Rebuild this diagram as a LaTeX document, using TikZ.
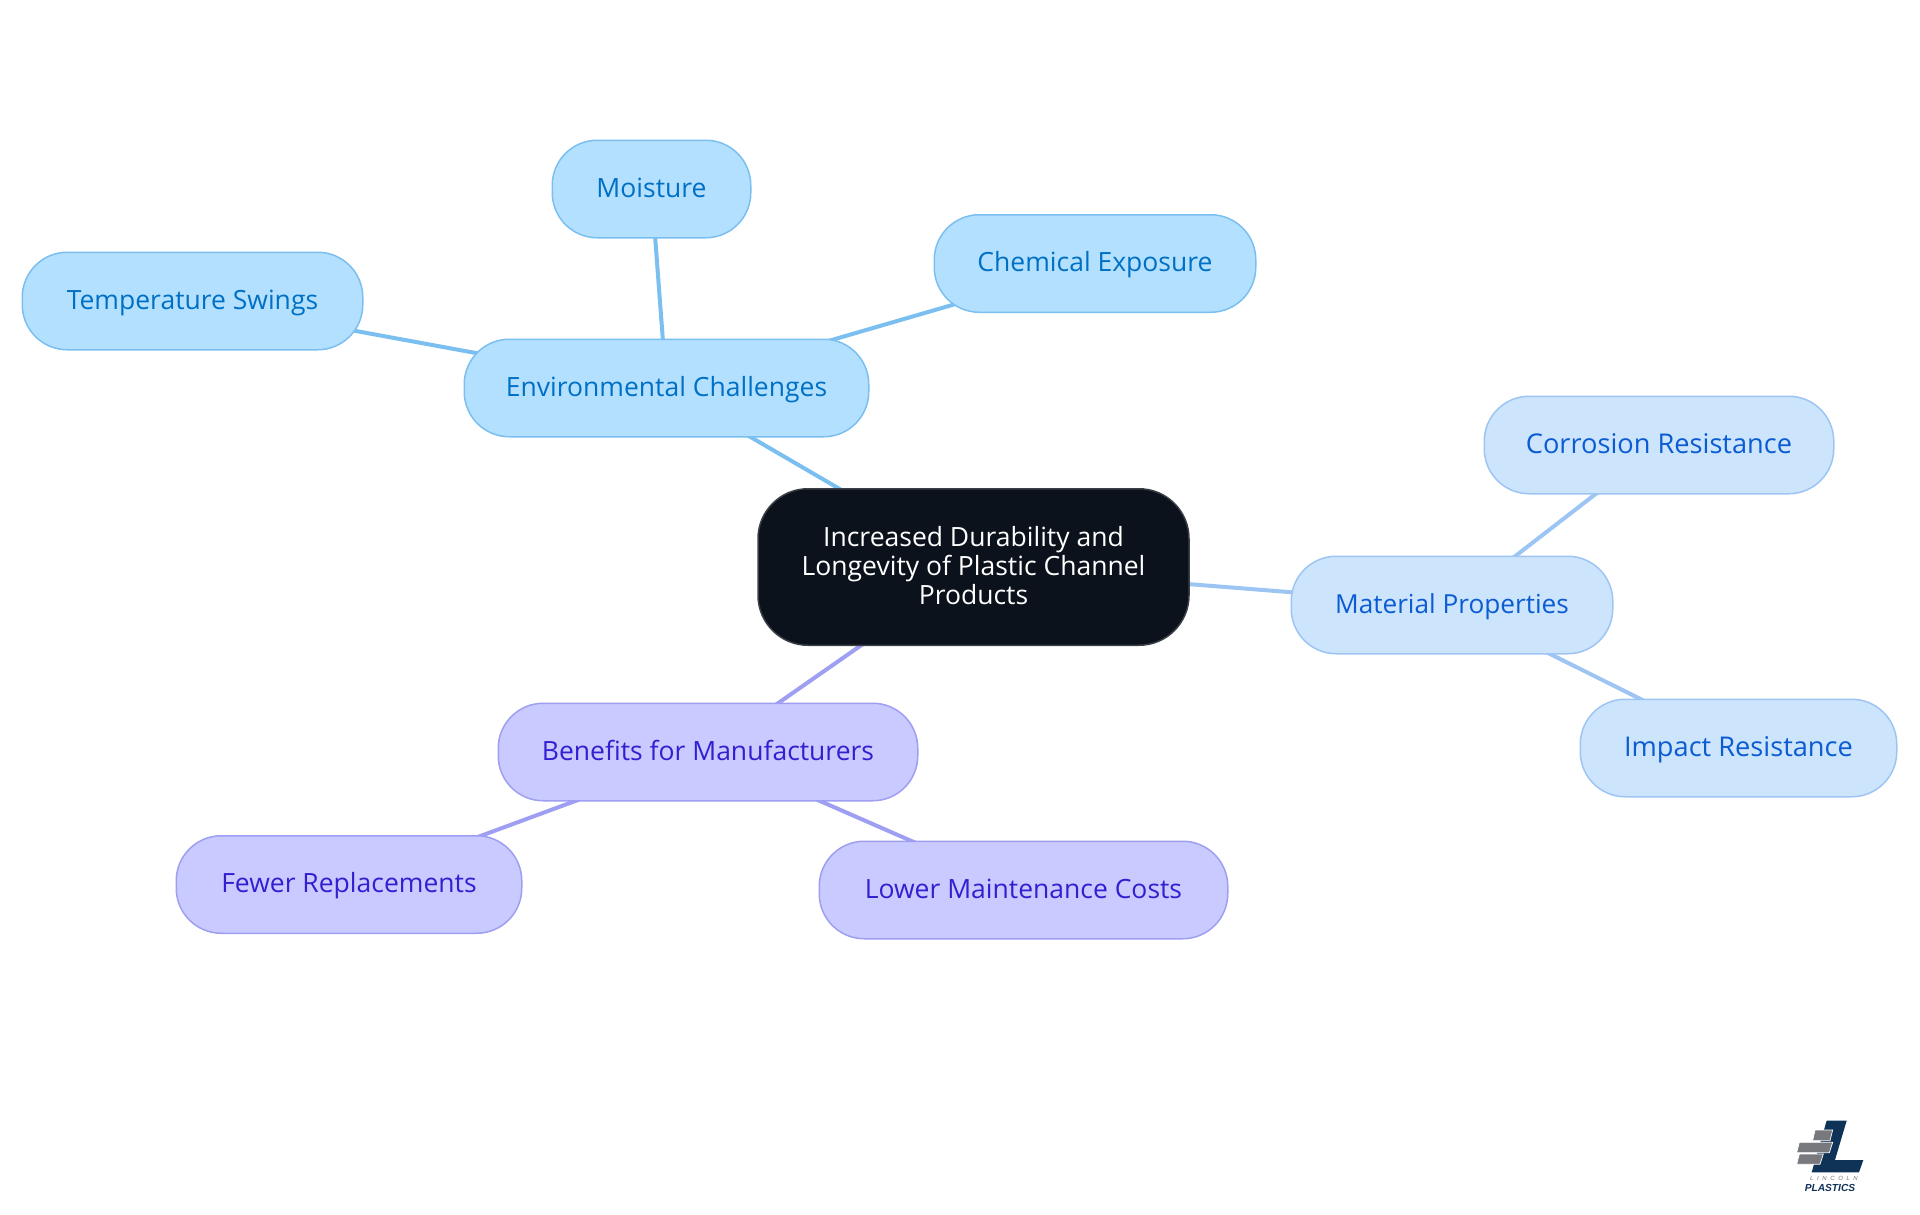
\documentclass[tikz,border=0pt]{standalone}
\usepackage{fontspec}
\setmainfont{Open Sans}[Scale=1]
\newfontfamily\logofont{Liberation Sans}
\usetikzlibrary{backgrounds}
\definecolor{envfill}{HTML}{B4E0FF}\definecolor{envline}{HTML}{7BBFF0}\definecolor{envtext}{HTML}{0070C4}
\definecolor{matfill}{HTML}{CDE4FD}\definecolor{matline}{HTML}{9CC5F3}\definecolor{mattext}{HTML}{0B5CD2}
\definecolor{benfill}{HTML}{C9CAFF}\definecolor{benline}{HTML}{9E9EF2}\definecolor{bentext}{HTML}{3220D0}
\definecolor{rootfill}{HTML}{0B121B}\definecolor{rootline}{HTML}{3A3F46}
\definecolor{logonavy}{HTML}{0F3357}\definecolor{logogrey}{HTML}{77797C}
\newcommand{\linestrut}{\rule[-6pt]{0pt}{28pt}}
\tikzset{
 x=1pt,y=-1pt,
 pill/.style={rounded corners=45pt,line width=1.5pt,align=center,inner sep=0pt,outer sep=0pt,font=\fontsize{26.5}{29}\selectfont,minimum height=97.5pt,text height=22pt,text depth=6pt},
 envn/.style={pill,draw=envline,fill=envfill,text=envtext},
 matn/.style={pill,draw=matline,fill=matfill,text=mattext},
 benn/.style={pill,draw=benline,fill=benfill,text=bentext},
 rootn/.style={pill,draw=rootline,fill=rootfill,text=white,rounded corners=50pt,text height=,text depth=},
 envl/.style={line width=4pt,draw=envline},
 matl/.style={line width=4pt,draw=matline},
 benl/.style={line width=4pt,draw=benline},
 brick/.style={fill=logogrey,draw=white,line width=0.7pt},
}
\begin{document}
\begin{tikzpicture}
\useasboundingbox (0,0) rectangle (1920,1215);
\node[rootn,minimum width=431pt,minimum height=156.5pt] (root) at (973.5,567) {\linestrut Increased Durability and\\Longevity of Plastic Channel\\Products\linestrut};
\node[envn,minimum width=404.5pt] (env) at (666.5,388) {Environmental Challenges};
\node[envn,minimum width=340.5pt] (temp) at (192.5,301) {Temperature Swings};
\node[envn,minimum width=198.5pt] (moist) at (651.5,189) {Moisture};
\node[envn,minimum width=321.5pt] (chem) at (1095,263.5) {Chemical Exposure};
\node[matn,minimum width=321.5pt,font=\fontsize{26.2}{29}\selectfont] (mat) at (1452,605) {Material Properties};
\node[matn,minimum width=349.5pt,font=\fontsize{27.2}{29}\selectfont] (corr) at (1659,445) {Corrosion Resistance};
\node[matn,minimum width=316.5pt,font=\fontsize{27.2}{29}\selectfont] (imp) at (1738.5,748) {Impact Resistance};
\node[benn,minimum width=419.5pt] (ben) at (708,752) {Benefits for Manufacturers};
\node[benn,minimum width=345.5pt] (few) at (349,884.5) {Fewer Replacements};
\node[benn,minimum width=408.5pt] (low) at (1023.5,890) {Lower Maintenance Costs};
\begin{scope}[on background layer]
\draw[envl] (root.center) -- (env.center);
\draw[envl] (env.center) -- (temp.center);
\draw[envl] (env.center) -- (moist.center);
\draw[envl] (env.center) -- (chem.center);
\draw[matl] (root.center) -- (mat.center);
\draw[matl] (mat.center) -- (corr.center);
\draw[matl] (mat.center) -- (imp.center);
\draw[benl] (root.center) -- (ben.center);
\draw[benl] (ben.center) -- (few.center);
\draw[benl] (ben.center) -- (low.center);
\end{scope}
% logo
\begin{scope}[shift={(1760,1100)},x=0.3333pt,y=-0.3333pt]
\fill[logonavy] (200,62) -- (260,62) -- (225,180) -- (310,180) -- (297,217) -- (155,217) -- cycle;
\filldraw[brick] (165,90) -- (218,90) -- (210,122) -- (158,122) -- cycle;
\filldraw[brick] (118,127) -- (218,127) -- (208,158) -- (110,158) -- cycle;
\filldraw[brick] (118,162) -- (190,162) -- (180,193) -- (110,193) -- cycle;
\node[text=logogrey,font=\logofont\fontsize{6}{6}\selectfont\itshape,inner sep=0pt] (lin) at (222,235) {L\hspace{3.6pt}I\hspace{3.6pt}N\hspace{3.6pt}C\hspace{3.6pt}O\hspace{3.6pt}L\hspace{3.6pt}N};
\node[text=logonavy,font=\logofont\fontsize{10.2}{12}\selectfont\bfseries\itshape,inner sep=0pt] (pla) at (210,265) {PLASTICS};
\end{scope}
\end{tikzpicture}
\end{document}
